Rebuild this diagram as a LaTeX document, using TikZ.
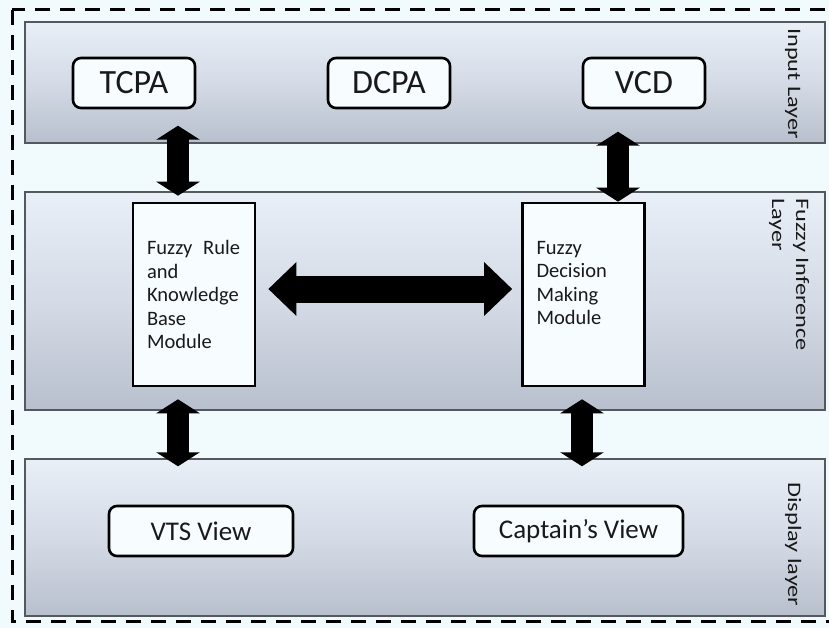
\documentclass[tikz,border=0pt]{standalone}
\usepackage{fontspec}
\setmainfont{Carlito}
\usetikzlibrary{arrows.meta,calc}
\definecolor{bgc}{RGB}{241,250,253}
\definecolor{boxfill}{RGB}{247,253,255}
\definecolor{bandtop}{RGB}{233,239,247}
\definecolor{bandmid}{RGB}{212,219,230}
\definecolor{bandbot}{RGB}{184,192,205}
\definecolor{bandline}{RGB}{85,88,92}
\definecolor{txt}{RGB}{25,25,25}
\tikzset{
  band/.style={draw=bandline, line width=1.5pt, top color=bandtop, bottom color=bandbot, middle color=bandmid, minimum width=800pt, inner sep=0pt},
  inbox/.style={draw=black, line width=2.6pt, rounded corners=8pt, fill=boxfill, inner sep=0pt, text=txt},
  modbox/.style={draw=black, line width=2.6pt, fill=boxfill, minimum width=122pt, minimum height=183pt, text width=94pt, inner xsep=14pt, inner ysep=0pt, align=left, font=\fontsize{20.5}{23.5}\selectfont, text=txt},
  lbl/.style={rotate=-90, anchor=base west, inner sep=0pt, font=\fontsize{19}{22}\selectfont, text=txt},
  varrow/.style={line width=22pt, {Triangle[width=43pt,length=14pt]}-{Triangle[width=43pt,length=14pt]}},
  harrow/.style={line width=27pt, {Triangle[width=52pt,length=28pt]}-{Triangle[width=52pt,length=28pt]}},
  dborder/.style={line width=3pt, dash pattern=on 15pt off 10pt}
}
\begin{document}
\begin{tikzpicture}[x=1pt,y=-1pt]
\useasboundingbox (0,0) rectangle (829,628);
\fill[bgc] (0,0) rectangle (829,628);
\begin{scope}
\clip (0,0) rectangle (829,628);
\draw[dborder] (12,10) rectangle (845,621);
\end{scope}

% layer bands
\node[band, minimum height=121pt] (inband) at (425,82.5) {};
\node[band, minimum height=218pt] (fiband) at (425,301) {};
\node[band, minimum height=157pt] (dsband) at (425,537.5) {};

% layer labels
\node[lbl] (lin) at (788,28) {\scalebox{1.28}[1]{Input Layer}};
\node[lbl] (lfi1) at (796,198) {\scalebox{1.28}[1]{Fuzzy Inference}};
\node[lbl] (lfi2) at (772,198) {\scalebox{1.28}[1]{Layer}};
\node[lbl] (lds) at (788,482) {\scalebox{1.28}[1]{Display layer}};

% input boxes
\node[inbox, minimum width=122pt, minimum height=50pt, font=\fontsize{34}{40}\selectfont] (tcpa) at (134,83) {TCPA};
\node[inbox, minimum width=122pt, minimum height=50pt, font=\fontsize{34}{40}\selectfont] (dcpa) at (389,83) {DCPA};
\node[inbox, minimum width=122pt, minimum height=50pt, font=\fontsize{34}{40}\selectfont] (vcd) at (644,83) {VCD};

% modules
\node[modbox] (frkb) at (194,294.5) {\hbox to 93pt{Fuzzy\hfill Rule}\\and\\Knowledge\\Base\\Module};
\node[modbox] (fdmm) at (583.5,294.5) {Fuzzy\\Decision\\Making\\Module\\ \mbox{}};

% display boxes
\node[inbox, minimum width=184pt, minimum height=50pt, font=\fontsize{27}{32}\selectfont] (vts) at (201,531) {VTS View};
\node[inbox, minimum width=209pt, minimum height=50pt, font=\fontsize{27}{32}\selectfont] (cap) at (578.5,531) {Captain’s View};

% connectors
\coordinate (a1t) at ($(frkb.north)+(-16,-76)$);
\draw[varrow] (a1t) -- ([yshift=6pt]frkb.north -| a1t);
\coordinate (a2t) at ($(fdmm.north)+(34.5,-70)$);
\draw[varrow] (a2t) -- (fdmm.north -| a2t);
\draw[harrow] ([xshift=12pt,yshift=5.5pt]frkb.east) -- ([xshift=-9pt,yshift=5.5pt]fdmm.west);
\coordinate (a4t) at ($(frkb.south)+(-16,12)$);
\coordinate (a4b) at ($(frkb.south)+(-16,79)$);
\draw[varrow] (a4t) -- (a4b);
\coordinate (a5t) at ($(fdmm.south)+(-1.5,12)$);
\coordinate (a5b) at ($(fdmm.south)+(-1.5,79)$);
\draw[varrow] (a5t) -- (a5b);
\end{tikzpicture}
\end{document}
